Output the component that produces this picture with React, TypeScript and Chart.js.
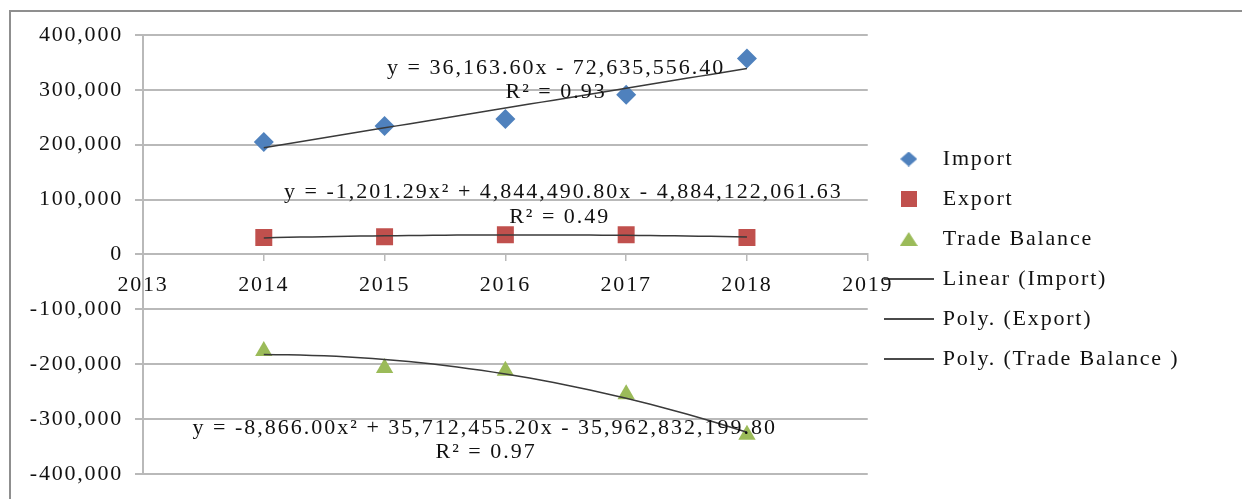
import React, { useEffect, useRef } from 'react';
import { Chart, registerables } from 'chart.js';

Chart.register(...registerables);

// ---------- data ----------
const years = [2014, 2015, 2016, 2017, 2018];
const importValues = [205000, 234000, 247000, 291000, 357000];
const exportValues = [31000, 32000, 36000, 36000, 31000];
const tradeBalanceValues = [-176000, -207000, -212000, -255000, -329000];

const seriesNames = ['Import', 'Export', 'Trade Balance'];
const trendNames = ['Linear (Import)', 'Poly. (Export)', 'Poly. (Trade Balance )'];
const trendDegrees = [1, 2, 2];

const xMin = 2013;
const xMax = 2019;
const yMin = -400000;
const yMax = 400000;
const yStep = 100000;

const equationTexts = [
  'y = 36,163.60x - 72,635,556.40',
  'R² = 0.93',
  'y = -1,201.29x² + 4,844,490.80x - 4,884,122,061.63',
  'R² = 0.49',
  'y = -8,866.00x² + 35,712,455.20x - 35,962,832,199.80',
  'R² = 0.97',
];
// anchor (data coordinates) for each equation text
const equationX = [2016.42, 2016.42, 2016.48, 2016.45, 2015.83, 2015.84];
const equationY = [339000, 296000, 114000, 68000, -316000, -361000];

// ---------- styles ----------
const FONT_FAMILY = "'Liberation Serif', 'Times New Roman', serif";
const FONT_SIZE = 22;
const TEXT_COLOR = '#111111';
const GRID_COLOR = '#b9b9b9';
const TREND_COLOR = '#3a3a3a';
const COLORS = ['#4F81BD', '#C0504D', '#9BBB59'];
const POINT_STYLES = ['rectRot', 'rect', 'triangle'];
const POINT_RADII = [10, 12, 10];

// least-squares polynomial fit (centered x for stability)
function polyFit(xs: number[], ys: number[], degree: number) {
  const mean = xs.reduce((a, b) => a + b, 0) / xs.length;
  const n = degree + 1;
  const A: number[][] = [];
  for (let r = 0; r < n; r++) {
    const row: number[] = [];
    for (let c = 0; c < n; c++) {
      row.push(xs.reduce((s, x) => s + Math.pow(x - mean, r + c), 0));
    }
    row.push(xs.reduce((s, x, i) => s + Math.pow(x - mean, r) * ys[i], 0));
    A.push(row);
  }
  for (let i = 0; i < n; i++) {
    let p = i;
    for (let k = i + 1; k < n; k++) if (Math.abs(A[k][i]) > Math.abs(A[p][i])) p = k;
    [A[i], A[p]] = [A[p], A[i]];
    for (let k = i + 1; k < n; k++) {
      const f = A[k][i] / A[i][i];
      for (let c = i; c <= n; c++) A[k][c] -= f * A[i][c];
    }
  }
  const coef = new Array(n).fill(0);
  for (let i = n - 1; i >= 0; i--) {
    let s = A[i][n];
    for (let c = i + 1; c < n; c++) s -= A[i][c] * coef[c];
    coef[i] = s / A[i][i];
  }
  return (x: number) => coef.reduce((s, c, i) => s + c * Math.pow(x - mean, i), 0);
}

function trendPoints(values: number[], degree: number) {
  const f = polyFit(years, values, degree);
  const pts: { x: number; y: number }[] = [];
  const a = years[0];
  const b = years[years.length - 1];
  const steps = 40;
  for (let i = 0; i <= steps; i++) {
    const x = a + ((b - a) * i) / steps;
    pts.push({ x, y: f(x) });
  }
  return pts;
}

function makeLegendImage(kind: string, color: string) {
  const c = document.createElement('canvas');
  const ctx = c.getContext('2d')!;
  if (kind === 'line') {
    c.width = 50;
    c.height = 4;
    ctx.fillStyle = '#4a4a4a';
    ctx.fillRect(0, 1, 50, 2);
    return c;
  }
  if (kind === 'rectRot') {
    c.width = 17;
    c.height = 15;
    ctx.fillStyle = color;
    ctx.beginPath();
    ctx.moveTo(8.5, 0);
    ctx.lineTo(17, 7.5);
    ctx.lineTo(8.5, 15);
    ctx.lineTo(0, 7.5);
    ctx.closePath();
    ctx.fill();
    return c;
  }
  if (kind === 'rect') {
    c.width = 16;
    c.height = 16;
    ctx.fillStyle = color;
    ctx.fillRect(0, 0, 16, 16);
    return c;
  }
  c.width = 18;
  c.height = 14;
  ctx.fillStyle = color;
  ctx.beginPath();
  ctx.moveTo(9, 0);
  ctx.lineTo(18, 14);
  ctx.lineTo(0, 14);
  ctx.closePath();
  ctx.fill();
  return c;
}

const LETTER_SPACING = '1.8px';
const setSpacing = (chart: any) => {
  try {
    (chart.ctx as any).letterSpacing = LETTER_SPACING;
  } catch (e) {
    /* ignore */
  }
};

const spacingPlugin = {
  id: 'letterSpacing',
  beforeUpdate: setSpacing,
  beforeLayout: setSpacing,
  beforeDraw: setSpacing,
  afterLayout(chart: any) {
    // letter spacing is not part of the measured legend width: widen the legend's clip box
    const lg = chart.legend;
    if (lg) {
      lg.right = chart.width;
      lg.width = lg.right - lg.left;
    }
  },
};

const equationPlugin = {
  id: 'equations',
  afterDatasetsDraw(chart: any) {
    const { ctx, scales } = chart;
    ctx.save();
    try {
      (ctx as any).letterSpacing = '2px';
    } catch (e) {
      /* ignore */
    }
    ctx.font = `${FONT_SIZE}px ${FONT_FAMILY}`;
    ctx.fillStyle = TEXT_COLOR;
    ctx.textAlign = 'center';
    ctx.textBaseline = 'middle';
    equationTexts.forEach((t, i) => {
      const px = scales.x.getPixelForValue(equationX[i]);
      const py = scales.y.getPixelForValue(equationY[i]);
      ctx.fillText(t, px, py);
    });
    ctx.restore();
  },
};

export default function App() {
  const canvasRef = useRef<HTMLCanvasElement | null>(null);

  useEffect(() => {
    if (!canvasRef.current) return;
    const seriesValues = [importValues, exportValues, tradeBalanceValues];

    const markerSets = seriesValues.map((vals, i) => ({
      type: 'scatter' as const,
      label: seriesNames[i],
      data: years.map((x, j) => ({ x, y: vals[j] })),
      backgroundColor: COLORS[i],
      borderColor: COLORS[i],
      borderWidth: 0,
      pointStyle: POINT_STYLES[i],
      pointRadius: POINT_RADII[i],
      pointHoverRadius: POINT_RADII[i],
      showLine: false,
      order: 2,
    }));

    const trendSets = seriesValues.map((vals, i) => ({
      type: 'line' as const,
      label: trendNames[i],
      data: trendPoints(vals, trendDegrees[i]),
      borderColor: TREND_COLOR,
      backgroundColor: TREND_COLOR,
      borderWidth: 1.5,
      pointRadius: 0,
      pointStyle: 'line',
      fill: false,
      tension: 0,
      order: 1,
    }));

    const legendImages = [
      ...POINT_STYLES.map((s, i) => makeLegendImage(s, COLORS[i])),
      makeLegendImage('line', TREND_COLOR),
      makeLegendImage('line', TREND_COLOR),
      makeLegendImage('line', TREND_COLOR),
    ];

    const chart = new Chart(canvasRef.current, {
      type: 'scatter',
      data: { datasets: [...markerSets, ...trendSets] as any },
      plugins: [spacingPlugin, equationPlugin],
      options: {
        animation: false,
        responsive: false,
        devicePixelRatio: 1,
        layout: { padding: { top: 35, bottom: 16, left: 0, right: 85 } },
        plugins: {
          tooltip: { enabled: false },
          legend: {
            position: 'right',
            align: 'center',
            labels: {
              usePointStyle: true,
              pointStyleWidth: 46,
              boxHeight: FONT_SIZE,
              padding: 18,
              color: TEXT_COLOR,
              font: { family: FONT_FAMILY, size: FONT_SIZE },
              generateLabels: (ch: any) => {
                const items = Chart.defaults.plugins.legend.labels.generateLabels(ch);
                items.sort((a: any, b: any) => a.datasetIndex - b.datasetIndex);
                return items.map((it: any) => ({
                  ...it,
                  pointStyle: legendImages[it.datasetIndex],
                  rotation: 0,
                  lineWidth: 0,
                }));
              },
            },
          },
        },
        scales: {
          x: {
            type: 'linear',
            position: { y: 0 } as any,
            min: xMin,
            max: xMax,
            ticks: {
              stepSize: 1,
              color: TEXT_COLOR,
              font: { family: FONT_FAMILY, size: FONT_SIZE },
              padding: 12,
              maxRotation: 0,
              autoSkip: false,
              callback: (v: any) => String(v),
            },
            grid: {
              drawOnChartArea: false,
              drawTicks: true,
              tickLength: 6,
              color: GRID_COLOR,
              lineWidth: 1.5,
            },
            border: { display: true, color: GRID_COLOR, width: 2 },
          },
          y: {
            type: 'linear',
            min: yMin,
            max: yMax,
            afterFit: (scale: any) => {
              scale.width = 143;
            },
            ticks: {
              stepSize: yStep,
              color: TEXT_COLOR,
              font: { family: FONT_FAMILY, size: FONT_SIZE },
              padding: 12,
              callback: (v: any) => Number(v).toLocaleString('en-US'),
            },
            grid: {
              color: GRID_COLOR,
              lineWidth: 2,
              tickLength: 8,
            },
            border: { display: true, color: GRID_COLOR, width: 2 },
          },
        },
      },
    });
    return () => chart.destroy();
  }, []);

  return (
    <div
      style={{
        position: 'fixed',
        left: 0,
        top: 0,
        width: 1242,
        height: 499,
        background: '#ffffff',
        overflow: 'hidden',
      }}
    >
      <canvas ref={canvasRef} width={1242} height={499} style={{ display: 'block' }} />
      <div
        style={{
          position: 'absolute',
          left: 9,
          top: 10,
          width: 1300,
          height: 600,
          borderLeft: '2px solid #8f8f8f',
          borderTop: '2px solid #8f8f8f',
          pointerEvents: 'none',
        }}
      />
    </div>
  );
}
